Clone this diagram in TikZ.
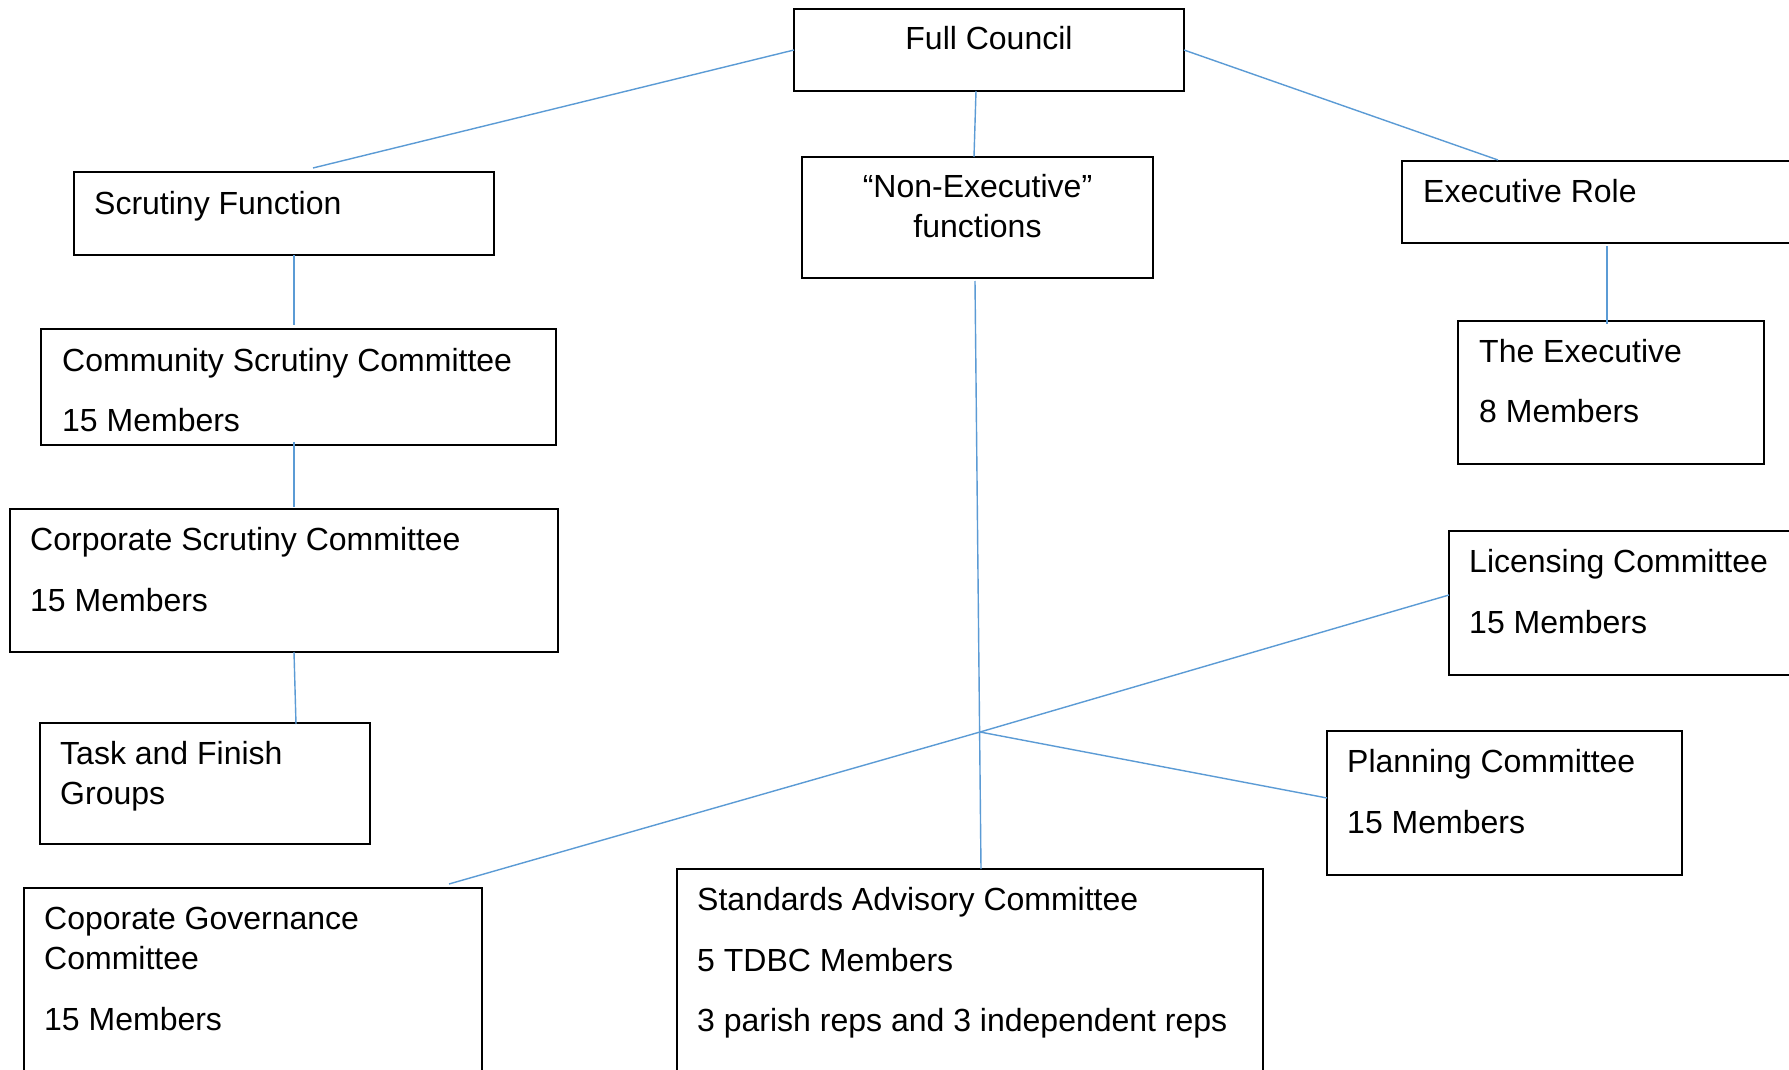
\documentclass[tikz,border=0pt]{standalone}
\usepackage{fontspec}
\setmainfont{Liberation Sans}
\definecolor{linkblue}{HTML}{5B9BD5}
\newcommand\mkbox[5]{\node[box, minimum width={#4-#2}, minimum height={#5-#3}] (#1) at (#2,-#3) {};}
\begin{document}
\begin{tikzpicture}[x=1pt,y=1pt,
  box/.style={draw=black, line width=2.3pt, inner sep=0pt, outer sep=0pt, anchor=north west},
  txt/.style={inner sep=0pt, anchor=north west, align=left, font=\fontsize{32}{40}\selectfont},
  ctxt/.style={inner sep=0pt, anchor=north, align=center, font=\fontsize{32}{40}\selectfont},
  link/.style={draw=linkblue, line width=1.4pt}]
\useasboundingbox (0,0) rectangle (1789,-1070);
\clip (0,0) rectangle (1789,-1070);
\fill[white] (0,0) rectangle (1789,-1070);

% boxes: name, left, top, right, bottom (pixels)
\mkbox{fc}{794}{9}{1184}{91}
\mkbox{sf}{74}{172}{494}{255}
\mkbox{ne}{802}{157}{1153}{278}
\mkbox{er}{1402}{161}{1810}{243}
\mkbox{cs}{41}{329}{556}{445}
\mkbox{te}{1458}{321}{1764}{464}
\mkbox{cps}{10}{509}{558}{652}
\mkbox{lc}{1449}{531}{1810}{675}
\mkbox{tf}{40}{723}{370}{844}
\mkbox{pc}{1327}{731}{1682}{875}
\mkbox{cg}{24}{888}{482}{1090}
\mkbox{sa}{677}{869}{1263}{1090}

% texts
\node[ctxt] (fc-t) at ([yshift=-12]fc.north) {\strut Full Council};
\node[ctxt] (ne-t) at ([yshift=-12.5]ne.north) {\strut “Non-Executive”\\functions};
\node[txt] (sf-t) at ([shift={(20,-14)}]sf.north west) {\strut Scrutiny Function};
\node[txt] (er-t) at ([shift={(21,-13)}]er.north west) {\strut Executive Role};
\node[txt] (cs-t) at ([shift={(21,-14)}]cs.north west) {\strut Community Scrutiny Committee\\[20.5pt]15 Members};
\node[txt] (te-t) at ([shift={(21,-13)}]te.north west) {\strut The Executive\\[20.5pt]8 Members};
\node[txt] (cps-t) at ([shift={(20,-13.5)}]cps.north west) {\strut Corporate Scrutiny Committee\\[20.5pt]15 Members};
\node[txt] (lc-t) at ([shift={(20,-13.5)}]lc.north west) {\strut Licensing Committee\\[20.5pt]15 Members};
\node[txt] (tf-t) at ([shift={(20,-13)}]tf.north west) {\strut Task and Finish\\Groups};
\node[txt] (pc-t) at ([shift={(20,-13.5)}]pc.north west) {\strut Planning Committee\\[20.5pt]15 Members};
\node[txt] (cg-t) at ([shift={(20,-13.5)}]cg.north west) {\strut Coporate Governance\\Committee\\[20.5pt]15 Members};
\node[txt] (sa-t) at ([shift={(20,-13.5)}]sa.north west) {\strut Standards Advisory Committee\\[20.5pt]5 TDBC Members\\[20.5pt]3 parish reps and 3 independent reps};

% connectors
\draw[link] (fc.west) -- ([shift={(29,4)}]sf.north);
\draw[link] ([xshift=-1.5]ne.north |- fc.south) -- ([xshift=-3.5]ne.north);
\draw[link] (fc.east) -- ([shift={(96,1)}]er.north west);
\draw[link] ([xshift=-4,yshift=-3]te.north |- er.south) -- ([xshift=-4,yshift=-3]te.north);
\draw[link] ([xshift=10]sf.south) -- ([xshift=10,yshift=4]sf.south |- cs.north);
\draw[link] ([xshift=-4.5,yshift=3]cs.south) -- ([xshift=-4.5,yshift=2]cs.south |- cps.north);
\draw[link] ([xshift=10]cps.south) -- ([xshift=12,yshift=-1]cps.south |- tf.north);
\draw[link] ([shift={(-2.5,-3)}]ne.south) -- ([xshift=11]sa.north);
\coordinate (j) at (980,-732);
\draw[link] ([shift={(-33,4)}]cg.north east) -- (j) -- ([yshift=8]lc.west);
\draw[link] (j) -- ([yshift=5]pc.west);
\end{tikzpicture}
\end{document}
